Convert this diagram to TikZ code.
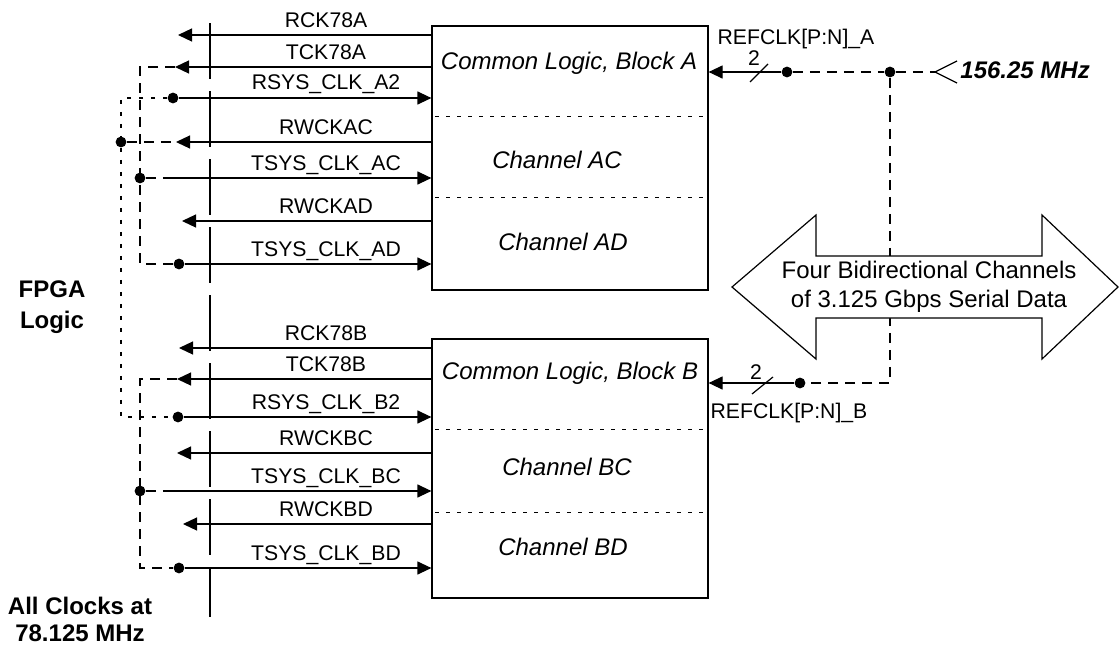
\documentclass[tikz,border=0pt]{standalone}
\usepackage{fontspec}
\setmainfont{Liberation Sans}
\usetikzlibrary{arrows.meta}

\begin{document}
\begin{tikzpicture}[x=0.5pt,y=-0.5pt]
\tikzstyle{wire} = [line width=0.6pt]
\tikzstyle{sig} = [wire, -{Triangle[length=7pt,width=6.5pt]}]
\tikzstyle{clkbus} = [wire, dash pattern=on 5pt off 3.5pt]
\tikzstyle{syncbus} = [line width=1.4pt, dash pattern=on 2pt off 4pt]
\tikzstyle{fence} = [wire, dash pattern=on 28pt off 6pt]
\tikzstyle{divider} = [line width=0.4pt, dash pattern=on 2pt off 3.5pt]
\tikzstyle{block} = [draw, wire, minimum width=138pt, inner sep=0pt]
\tikzstyle{dot} = [circle, fill, minimum size=5.4pt, inner sep=0pt]
\tikzstyle{siglbl} = [anchor=base, inner sep=0pt, font=\fontsize{10.6}{12}\selectfont]
\tikzstyle{blktxt} = [font=\fontsize{12}{14}\selectfont\itshape]
\tikzstyle{note} = [align=center, inner sep=0pt]
\useasboundingbox (0,0) rectangle (1120,648);

\node[block, minimum height=132pt] (blockA) at (570,158) {};
\node[block, minimum height=129.5pt] (blockB) at (570,468.5) {};
\node[blktxt] (cmnA) at (569,63) {Common Logic, Block A};
\node[blktxt] (chAC) at (557,160) {Channel AC};
\node[blktxt] (chAD) at (563,242) {Channel AD};
\node[blktxt] (cmnB) at (570,373) {Common Logic, Block B};
\node[blktxt] (chBC) at (567,467) {Channel BC};
\node[blktxt] (chBD) at (563,547) {Channel BD};
\draw[divider, shorten <=2pt, shorten >=1pt] (blockA.west |- 0,116) -- (blockA.east |- 0,116);
\draw[divider, shorten <=2pt, shorten >=1pt] (blockA.west |- 0,197) -- (blockA.east |- 0,197);
\draw[divider, shorten <=2pt, shorten >=1pt] (blockB.west |- 0,429) -- (blockB.east |- 0,429);
\draw[divider, shorten <=2pt, shorten >=1pt] (blockB.west |- 0,512) -- (blockB.east |- 0,512);

\coordinate (fenceTop) at (210,23);
\coordinate (fenceBot) at (210,617);
\draw[fence] (fenceTop) -- (fenceBot);
\coordinate (busA) at (140,0);
\coordinate (syncBus) at (121,0);

% block A signals
\coordinate (tRckA) at (178,35);
\coordinate (tTckA) at (175,67);
\coordinate (tRwckAC) at (176,142);
\coordinate (tRwckAD) at (182,221);
\coordinate (sTsysAC) at (170,178);
\node[dot] (dRsysA) at (173,98) {};
\node[dot] (dTsysAC) at (busA |- sTsysAC) {};
\node[dot] (dTsysAD) at (179,264) {};
\draw[sig] (tRckA -| blockA.west) -- (tRckA);
\draw[sig] (tTckA -| blockA.west) -- (tTckA);
\draw[sig] (dRsysA) -- (dRsysA -| blockA.west);
\draw[sig] (tRwckAC -| blockA.west) -- (tRwckAC);
\draw[sig] (sTsysAC) -- (sTsysAC -| blockA.west);
\draw[sig] (tRwckAD -| blockA.west) -- (tRwckAD);
\draw[sig] (dTsysAD) -- (dTsysAD -| blockA.west);
\node[siglbl] (lRckA) at (326,27) {RCK78A};
\node[siglbl] (lTckA) at (326,59) {TCK78A};
\node[siglbl] (lRsysA) at (326,90) {RSYS\_CLK\_A2};
\node[siglbl] (lRwckAC) at (326,134) {RWCKAC};
\node[siglbl] (lTsysAC) at (326,170) {TSYS\_CLK\_AC};
\node[siglbl] (lRwckAD) at (326,213) {RWCKAD};
\node[siglbl] (lTsysAD) at (326,256) {TSYS\_CLK\_AD};

% block B signals
\coordinate (tRckB) at (179,348);
\coordinate (tTckB) at (177,379);
\coordinate (tRwckBC) at (177,453);
\coordinate (tRwckBD) at (183,524);
\coordinate (sTsysBC) at (170,491);
\node[dot] (dRsysB) at (178,417) {};
\node[dot] (dTsysBC) at (busA |- sTsysBC) {};
\node[dot] (dTsysBD) at (179,568) {};
\draw[sig] (tRckB -| blockB.west) -- (tRckB);
\draw[sig] (tTckB -| blockB.west) -- (tTckB);
\draw[sig] (dRsysB) -- (dRsysB -| blockB.west);
\draw[sig] (tRwckBC -| blockB.west) -- (tRwckBC);
\draw[sig] (sTsysBC) -- (sTsysBC -| blockB.west);
\draw[sig] (tRwckBD -| blockB.west) -- (tRwckBD);
\draw[sig] (dTsysBD) -- (dTsysBD -| blockB.west);
\node[siglbl] (lRckB) at (326,340) {RCK78B};
\node[siglbl] (lTckB) at (326,371) {TCK78B};
\node[siglbl] (lRsysB) at (326,409) {RSYS\_CLK\_B2};
\node[siglbl] (lRwckBC) at (326,445) {RWCKBC};
\node[siglbl] (lTsysBC) at (326,483) {TSYS\_CLK\_BC};
\node[siglbl] (lRwckBD) at (326,516) {RWCKBD};
\node[siglbl] (lTsysBD) at (326,560) {TSYS\_CLK\_BD};

% loop-backs
\draw[clkbus] (tTckA) -- (tTckA -| busA) |- (dTsysAD);
\draw[clkbus] (dTsysAC) -- (sTsysAC);
\draw[clkbus] (tTckB) -- (tTckB -| busA) |- (dTsysBD);
\draw[clkbus] (dTsysBC) -- (sTsysBC);
\draw[syncbus] (dRsysA) -- (dRsysA -| syncBus) -- (dRsysB -| syncBus) -- (dRsysB);
\node[dot] (dRwckAC) at (syncBus |- tRwckAC) {};
\draw[clkbus] (dRwckAC) -- (tRwckAC);

% reference clock
\node[dot] (dRefA) at (787,72) {};
\node[dot] (dRefJ) at (890,72) {};
\node[dot] (dRefB) at (800,383) {};
\coordinate (inTip) at (935,72);
\draw[clkbus] (dRefA) -- (dRefJ) -- (inTip);
\draw[clkbus] (dRefJ) -- (dRefJ |- dRefB) -- (dRefB);
\draw[wire] (957,61) -- (inTip) -- (957,83);
\node[anchor=base west, inner sep=0pt, font=\fontsize{12}{14}\selectfont\bfseries\itshape] (freq) at (960,78) {156.25 MHz};
\draw[sig] (dRefA) -- (dRefA -| blockA.east);
\draw[sig] (dRefB) -- (dRefB -| blockB.east);
\draw[wire] (750,82) -- (768,64);
\draw[wire] (752,394) -- (773,377);
\node[siglbl] (wA) at (754,65) {2};
\node[siglbl] (wB) at (756,379) {2};
\node[siglbl] (refA) at (796,45) {REFCLK[P:N]\_A};
\node[siglbl] (refB) at (789,418) {REFCLK[P:N]\_B};

% serial links
\draw[wire, fill=white] (732,287) -- (816,215) -- (816,256) -- (1042,256) -- (1042,215)
  -- (1118,287) -- (1042,359) -- (1042,318) -- (816,318) -- (816,359) -- cycle;
\node[note, font=\fontsize{12}{14.5}\selectfont] (serial) at (929,287) {Four Bidirectional Channels\\of 3.125 Gbps Serial Data};

\node[note, font=\fontsize{12}{15.5}\selectfont\bfseries] (fpga) at (52,307) {FPGA\\Logic};
\node[note, font=\fontsize{12}{13.5}\selectfont\bfseries] (clkNote) at (80,619) {All Clocks at\\78.125 MHz};
\end{tikzpicture}
\end{document}
